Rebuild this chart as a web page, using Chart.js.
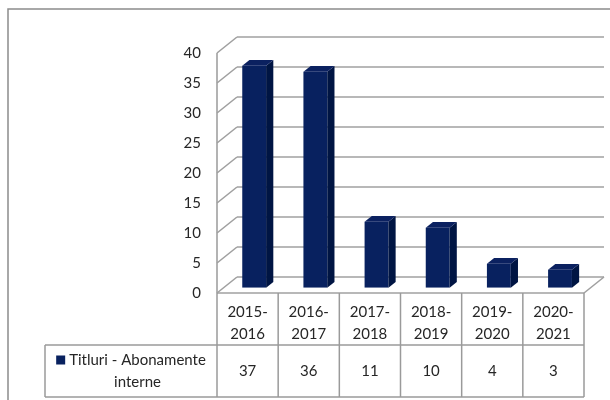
<!DOCTYPE html>
<html>
<head>
<meta charset="utf-8">
<script src="https://cdn.jsdelivr.net/npm/chart.js@4.4.0/dist/chart.umd.min.js"></script>
<style>
  html, body { margin: 0; padding: 0; background: #fff; }
  #wrap { width: 610px; height: 400px; position: relative; }
</style>
</head>
<body>
<div id="wrap"><canvas id="chart"></canvas></div>
<script>
const categories = ["2015-2016", "2016-2017", "2017-2018", "2018-2019", "2019-2020", "2020-2021"];
const seriesName = "Titluri - Abonamente interne";
const values = [37, 36, 11, 10, 4, 3];
const yTicks = [0, 5, 10, 15, 20, 25, 30, 35, 40];

const FONT = "Lato, 'Noto Sans', sans-serif";
const TEXT = "#262626";
const GRID = "#a0a0a0";
const TABLE_LINE = "#9a9a9a";
const DX = 20, DY = 16;          // depth of the 3d box
const BAR_SHIFT = 0.33;          // bars sit a third into the depth
const BAR_DEPTH = 0.36;
const BAR_FRONT = "#08215f", BAR_SIDE = "#001543", BAR_TOP = "#0b2160";
const LEGEND_LEFT = 45, ROW_SPLIT = 345, TABLE_BOTTOM = 397;

function line(ctx, x1, y1, x2, y2) {
  ctx.beginPath();
  ctx.moveTo(x1, y1);
  ctx.lineTo(x2, y2);
  ctx.stroke();
}

// walls, floor and outer frame
const box3d = {
  id: "box3d",
  beforeDraw(chart) {
    const { ctx, chartArea: a, scales } = chart;
    ctx.save();
    ctx.strokeStyle = "#8c8c8c";
    ctx.lineWidth = 1.5;
    ctx.strokeRect(8, 9, 800, 600);

    ctx.strokeStyle = GRID;
    ctx.lineWidth = 1.6;
    yTicks.forEach(v => {
      const y = scales.y.getPixelForValue(v);
      line(ctx, a.left, y, a.left + DX, y - DY);
      line(ctx, a.left + DX, y - DY, a.right + DX, y - DY);
    });
    line(ctx, a.left, a.top, a.left, a.bottom);
    line(ctx, a.left, a.bottom, a.right, a.bottom);
    line(ctx, a.right, a.bottom, a.right + DX, a.bottom - DY);
    ctx.restore();
  },
  beforeDatasetsDraw(chart) {
    chart.ctx.save();
    chart.ctx.translate(DX * BAR_SHIFT, -DY * BAR_SHIFT);
  },
  afterDatasetsDraw(chart) {
    const ctx = chart.ctx;
    const sx = DX * BAR_DEPTH, sy = DY * BAR_DEPTH;
    chart.getDatasetMeta(0).data.forEach(bar => {
      const l = bar.x - bar.width / 2, r = bar.x + bar.width / 2;
      ctx.fillStyle = BAR_SIDE;
      ctx.beginPath();
      ctx.moveTo(r, bar.y);
      ctx.lineTo(r + sx, bar.y - sy);
      ctx.lineTo(r + sx, bar.base - sy);
      ctx.lineTo(r, bar.base);
      ctx.closePath();
      ctx.fill();
      ctx.fillStyle = BAR_TOP;
      ctx.beginPath();
      ctx.moveTo(l, bar.y);
      ctx.lineTo(r, bar.y);
      ctx.lineTo(r + sx, bar.y - sy);
      ctx.lineTo(l + sx, bar.y - sy);
      ctx.closePath();
      ctx.fill();
    });
    ctx.restore();
  }
};

// data table under the plot
const dataTable = {
  id: "dataTable",
  afterDraw(chart) {
    const { ctx, chartArea: a, scales } = chart;
    const n = categories.length;
    const catW = (a.right - a.left) / n;
    ctx.save();
    ctx.strokeStyle = TABLE_LINE;
    ctx.lineWidth = 1.5;
    for (let i = 0; i <= n; i++) {
      const x = a.left + i * catW;
      line(ctx, x, a.bottom, x, TABLE_BOTTOM);
    }
    line(ctx, LEGEND_LEFT, ROW_SPLIT, a.right, ROW_SPLIT);
    line(ctx, LEGEND_LEFT, TABLE_BOTTOM, a.right, TABLE_BOTTOM);
    line(ctx, LEGEND_LEFT, ROW_SPLIT, LEGEND_LEFT, TABLE_BOTTOM);

    ctx.fillStyle = TEXT;
    ctx.font = "15px " + FONT;
    ctx.textAlign = "center";
    ctx.textBaseline = "middle";
    values.forEach((v, i) => {
      ctx.fillText(String(v), scales.x.getPixelForValue(i), 371);
    });

    // legend key + wrapped series name
    const words = seriesName.split(" ");
    const lines = [];
    let cur = "";
    words.forEach(w => {
      const t = cur ? cur + " " + w : w;
      if (ctx.measureText(t).width > 150 && cur) { lines.push(cur); cur = w; }
      else cur = t;
    });
    lines.push(cur);
    const key = 9, gap = 4;
    const cx = (LEGEND_LEFT + a.left) / 2 + (key + gap) / 2;
    const y0 = 360, lh = 22;
    lines.forEach((t, i) => ctx.fillText(t, cx, y0 + i * lh));
    const w0 = ctx.measureText(lines[0]).width;
    ctx.fillStyle = BAR_FRONT;
    ctx.fillRect(cx - w0 / 2 - gap - key, y0 - 4.5, key, key);
    ctx.restore();
  }
};

new Chart(document.getElementById("chart"), {
  type: "bar",
  data: {
    labels: categories,
    datasets: [
      {
        label: seriesName,
        data: values,
        backgroundColor: BAR_FRONT,
        borderWidth: 0,
        barPercentage: 0.39,
        categoryPercentage: 1
      }
    ]
  },
  options: {
    responsive: true,
    maintainAspectRatio: false,
    animation: false,
    layout: {
      padding: { left: 157, right: 26, top: 53, bottom: 55 }
    },
    plugins: {
      legend: { display: false },
      tooltip: { enabled: false }
    },
    scales: {
      x: {
        afterFit(scale) { scale.height = 52; },
        grid: { display: false, drawTicks: false },
        border: { display: false },
        ticks: {
          color: TEXT,
          padding: 8,
          maxRotation: 0,
          font: { family: FONT, size: 15, lineHeight: "22px" },
          callback: (v, i) => {
            const [a, b] = categories[i].split("-");
            return [a + "-", b];
          }
        }
      },
      y: {
        min: 0,
        max: 40,
        afterFit(scale) { scale.width = 60; },
        afterBuildTicks(scale) { scale.ticks = yTicks.map(v => ({ value: v })); },
        grid: { display: false, drawTicks: false },
        border: { display: false },
        ticks: {
          color: TEXT,
          padding: 16,
          font: { family: FONT, size: 15 }
        }
      }
    }
  },
  plugins: [box3d, dataTable]
});
</script>
</body>
</html>
